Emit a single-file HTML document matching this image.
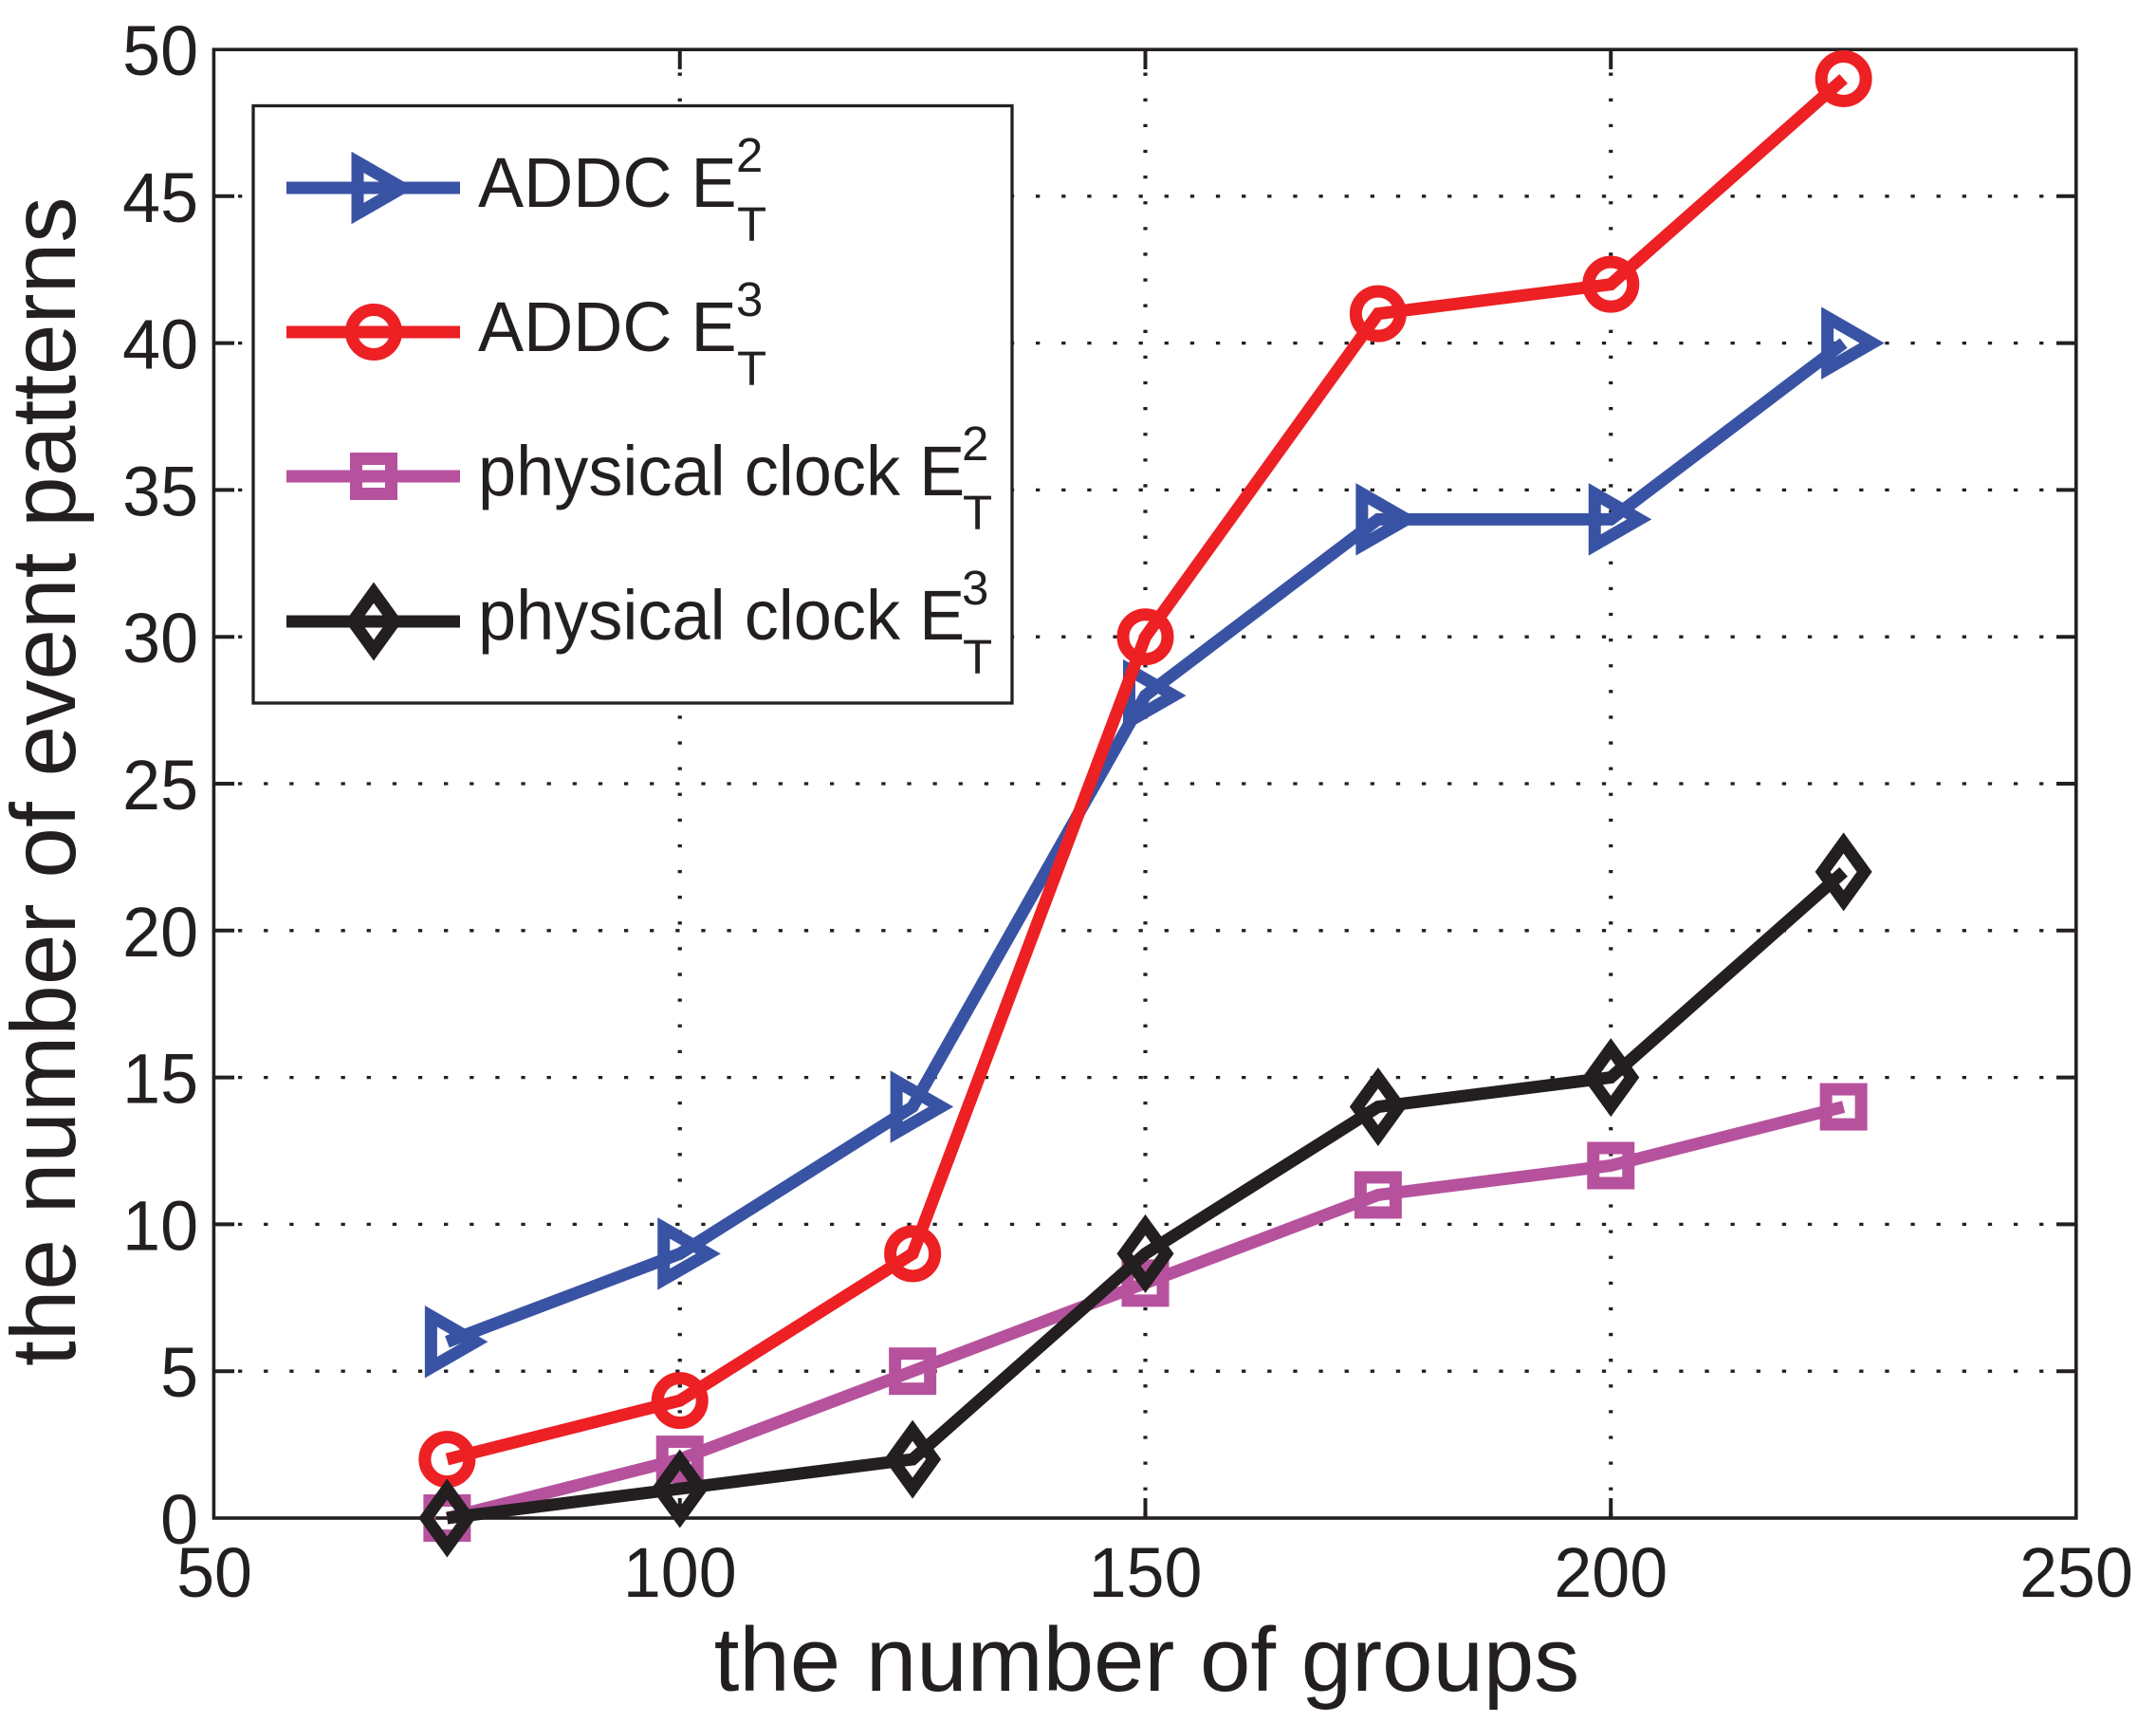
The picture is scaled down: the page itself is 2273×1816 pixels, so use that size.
<!DOCTYPE html>
<html>
<head>
<meta charset="utf-8">
<title>Event patterns chart</title>
<style>
html,body{margin:0;padding:0;background:#fff;}
svg{display:block;}
text{font-family:"Liberation Sans",sans-serif;fill:#231f20;}
</style>
</head>
<body>
<svg id="chart" xmlns="http://www.w3.org/2000/svg" width="2273" height="1816" viewBox="0 0 2273 1816">
  <rect x="0" y="0" width="2273" height="1816" fill="#ffffff"/>
  <g id="grid"></g>
  <g id="ticks"></g>
  <rect x="225.4" y="52.2" width="1963.4" height="1547.8" fill="none" stroke="#231f20" stroke-width="3.6"/>
  <g id="tick-labels"></g>
  <g id="series"></g>
  <text x="1209" y="1782" font-size="96" text-anchor="middle">the number of groups</text>
  <text transform="translate(79,823.8) rotate(-90)" font-size="96.4" text-anchor="middle">the number of event patterns</text>

  <g>
    <rect x="267" y="111.5" width="800" height="629.5" fill="#ffffff" stroke="#231f20" stroke-width="3.3"/>
    <g id="legend-keys"></g>
    <g>
      <text transform="translate(504,218) scale(0.975,1)" font-size="74">ADDC E</text>
      <text x="776" y="181" font-size="51">2</text>
      <text x="777" y="254" font-size="51">T</text>
    </g>
    <g>
      <text transform="translate(504,370) scale(0.975,1)" font-size="74">ADDC E</text>
      <text x="776" y="333" font-size="51">3</text>
      <text x="777" y="406" font-size="51">T</text>
    </g>
    <g>
      <text transform="translate(504,522) scale(0.975,1)" font-size="74">physical clock E</text>
      <text x="1014" y="485" font-size="51">2</text>
      <text x="1015" y="558" font-size="51">T</text>
    </g>
    <g>
      <text transform="translate(504,674) scale(0.975,1)" font-size="74">physical clock E</text>
      <text x="1014" y="637" font-size="51">3</text>
      <text x="1015" y="710" font-size="51">T</text>
    </g>
  </g>
</svg>
<script>
const categories = [75, 100, 125, 150, 175, 200, 225];
const addcE2 = [6, 9, 14, 28, 34, 34, 40];
const addcE3 = [2, 4, 9, 30, 41, 42, 49];
const physicalE2 = [0, 2, 5, 8, 11, 12, 14];
const physicalE3 = [0, 1, 2, 9, 14, 15, 22];
const xTickLabels = [50, 100, 150, 200, 250];
const yTickLabels = [0, 5, 10, 15, 20, 25, 30, 35, 40, 45, 50];

const NS = 'http://www.w3.org/2000/svg';
const INK = '#231f20';
const LEFT = 226, RIGHT = 2189, TOP = 52, BOTTOM = 1600;
const xMin = 50, xMax = 250, yMin = 0, yMax = 50;
function xAxis(v) { return LEFT + (v - xMin) / (xMax - xMin) * (RIGHT - LEFT); }
function yAxis(v) { return BOTTOM - (v - yMin) / (yMax - yMin) * (BOTTOM - TOP); }

function make(tag, parent, attrs) {
  const el = document.createElementNS(NS, tag);
  for (const k in attrs) el.setAttribute(k, attrs[k]);
  parent.appendChild(el);
  return el;
}

const gridG = document.getElementById('grid');
const ticksG = document.getElementById('ticks');
const labelsG = document.getElementById('tick-labels');

xTickLabels.forEach(function (v) {
  const x = xAxis(v);
  const label = make('text', labelsG, {
    transform: 'translate(' + x + ',1683) scale(0.97,1)',
    'font-size': 74,
    'text-anchor': 'middle'
  });
  label.textContent = v;
  
  
  if (v === xMin || v === xMax) return;
  const grid = make('line', gridG, {
    x1: x, x2: x, y1: BOTTOM - 2, y2: TOP,
    stroke: INK, 'stroke-width': 4.2, 'stroke-dasharray': '3.3 23.81'
  });
  
  
  const t1 = make('line', ticksG, { x1: x, x2: x, y1: BOTTOM, y2: BOTTOM - 21, stroke: INK, 'stroke-width': 4 });
  
  
  const t2 = make('line', ticksG, { x1: x, x2: x, y1: TOP, y2: TOP + 21, stroke: INK, 'stroke-width': 4 });
  
  
});

yTickLabels.forEach(function (v) {
  const y = yAxis(v);
  const label = make('text', labelsG, {
    transform: 'translate(209,' + (y + 27) + ') scale(0.97,1)',
    'font-size': 74,
    'text-anchor': 'end'
  });
  label.textContent = v;
  
  
  if (v === yMin || v === yMax) return;
  const grid = make('line', gridG, {
    x1: LEFT, x2: RIGHT, y1: y, y2: y,
    stroke: INK, 'stroke-width': 3.3, 'stroke-dasharray': '4.3 22.83', 'stroke-dashoffset': 2.15
  });
  
  
  const t1 = make('line', ticksG, { x1: LEFT, x2: LEFT + 21, y1: y, y2: y, stroke: INK, 'stroke-width': 4 });
  
  
  const t2 = make('line', ticksG, { x1: RIGHT, x2: RIGHT - 21, y1: y, y2: y, stroke: INK, 'stroke-width': 4 });
  
  
});

const SW = 13;
function drawMarker(parent, kind, cx, cy, color) {
  const common = { fill: 'none', stroke: color, 'stroke-width': SW, 'stroke-miterlimit': 10 };
  let el;
  if (kind === 'circle') {
    el = make('circle', parent, Object.assign({ cx: cx, cy: cy, r: 23.5 }, common));
  } else if (kind === 'square') {
    el = make('rect', parent, Object.assign({ x: cx - 18.5, y: cy - 18.5, width: 37, height: 37 }, common));
  } else if (kind === 'triangle') {
    const pts = [[cx + 30, cy], [cx - 17, cy - 27], [cx - 17, cy + 27]].map(function (p) { return p.join(','); }).join(' ');
    el = make('polygon', parent, Object.assign({ points: pts }, common));
  } else {
    const pts = [[cx + 22, cy], [cx, cy - 30.4], [cx - 22, cy], [cx, cy + 30.4]].map(function (p) { return p.join(','); }).join(' ');
    el = make('polygon', parent, Object.assign({ points: pts }, common));
  }
  return el;
}

const seriesDefs = [
  { name: 'addc-e2', values: addcE2, color: '#3953a4', marker: 'triangle', legendY: 198 },
  { name: 'addc-e3', values: addcE3, color: '#ed2024', marker: 'circle', legendY: 350 },
  { name: 'physical-clock-e2', values: physicalE2, color: '#b6529d', marker: 'square', legendY: 502 },
  { name: 'physical-clock-e3', values: physicalE3, color: '#231f20', marker: 'diamond', legendY: 655 }
];

const seriesG = document.getElementById('series');
const legendKeys = document.getElementById('legend-keys');
seriesDefs.forEach(function (s) {
  const g = make('g', seriesG, {});
  
  
  const pts = s.values.map(function (v, i) { return xAxis(categories[i]) + ',' + yAxis(v); }).join(' ');
  const line = make('polyline', g, { points: pts, fill: 'none', stroke: s.color, 'stroke-width': SW, 'stroke-linejoin': 'miter', 'stroke-miterlimit': 10 });
  
  
  s.values.forEach(function (v, i) {
    const m = drawMarker(g, s.marker, xAxis(categories[i]), yAxis(v), s.color);
    
    
  });
  const kg = make('g', legendKeys, {});
  
  
  const kl = make('line', kg, { x1: 302, x2: 485, y1: s.legendY, y2: s.legendY, stroke: s.color, 'stroke-width': SW });
  
  
  const km = drawMarker(kg, s.marker, 394, s.legendY, s.color);
  
  
});
</script>
</body>
</html>
